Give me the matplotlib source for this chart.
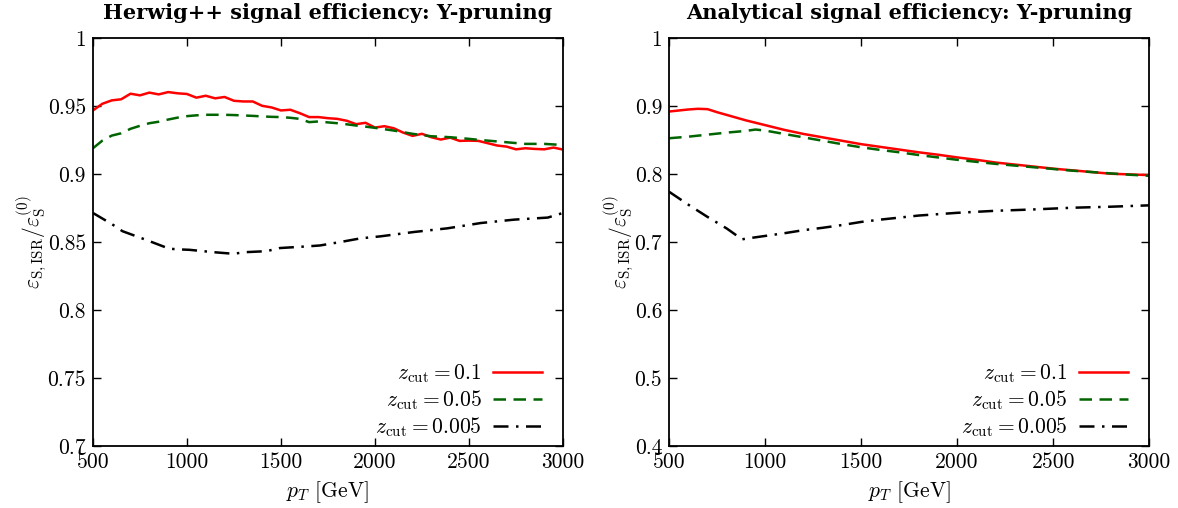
import matplotlib
matplotlib.use('Agg')
import matplotlib.pyplot as plt
from matplotlib.ticker import FuncFormatter

plt.rcParams['font.family'] = 'cmr10'
plt.rcParams['mathtext.fontset'] = 'cm'
plt.rcParams['axes.formatter.use_mathtext'] = True

# Herwig++ (left panel)
pt_herwig = [500, 550, 600, 650, 700, 750, 800, 850, 900, 950, 1000, 1050, 1100, 1150,
             1200, 1250, 1300, 1350, 1400, 1450, 1500, 1550, 1600, 1650, 1700, 1750,
             1800, 1850, 1900, 1950, 2000, 2050, 2100, 2150, 2200, 2250, 2300, 2350,
             2400, 2450, 2500, 2550, 2600, 2650, 2700, 2750, 2800, 2850, 2900, 2950, 3000]
herwig_z01 = [0.9468, 0.9517, 0.9542, 0.9550, 0.9591, 0.9579, 0.9599, 0.9586, 0.9603,
              0.9594, 0.9589, 0.9562, 0.9576, 0.9557, 0.9567, 0.9539, 0.9534, 0.9534,
              0.9502, 0.9490, 0.9468, 0.9473, 0.9448, 0.9419, 0.9419, 0.9411, 0.9406,
              0.9392, 0.9367, 0.9377, 0.9342, 0.9352, 0.9337, 0.9305, 0.9281, 0.9296,
              0.9271, 0.9254, 0.9268, 0.9244, 0.9246, 0.9244, 0.9227, 0.9210, 0.9202,
              0.9182, 0.9190, 0.9185, 0.9182, 0.9195, 0.9180]
herwig_z005 = [0.9190, 0.9246, 0.9283, 0.9300, 0.9333, 0.9355, 0.9374, 0.9385, 0.9401,
               0.9415, 0.9426, 0.9432, 0.9436, 0.9436, 0.9436, 0.9434, 0.9431, 0.9428,
               0.9424, 0.9421, 0.9419, 0.9414, 0.9406, 0.9382, 0.9387, 0.9380, 0.9374,
               0.9366, 0.9357, 0.9349, 0.9340, 0.9330, 0.9320, 0.9308, 0.9296, 0.9287,
               0.9278, 0.9275, 0.9271, 0.9265, 0.9259, 0.9252, 0.9246, 0.9240, 0.9234,
               0.9228, 0.9222, 0.9222, 0.9222, 0.9218, 0.9214]
pt_herwig_b = [500, 603, 657, 781, 906, 960, 1013, 1138, 1245, 1316, 1423, 1494, 1637,
               1708, 1815, 1922, 2029, 2207, 2385, 2563, 2741, 2919, 3000]
herwig_z0005 = [0.8714, 0.8630, 0.8580, 0.8517, 0.8451, 0.8446, 0.8443, 0.8426, 0.8414,
                0.8426, 0.8433, 0.8456, 0.8468, 0.8475, 0.8500, 0.8527, 0.8542, 0.8574,
                0.8601, 0.8640, 0.8665, 0.8680, 0.8714]

# Analytical (right panel)
pt_an_r = [500, 550, 600, 650, 700, 750, 800, 900, 1000, 1100, 1200, 1300, 1400, 1500,
           1600, 1700, 1800, 1900, 2000, 2100, 2200, 2300, 2400, 2500, 2600, 2700, 2800,
           2900, 3000]
an_z01 = [0.892, 0.8935, 0.895, 0.896, 0.8955, 0.891, 0.887, 0.879, 0.872, 0.865, 0.859,
          0.854, 0.849, 0.844, 0.840, 0.836, 0.832, 0.8285, 0.8245, 0.821, 0.817, 0.814,
          0.811, 0.808, 0.8055, 0.803, 0.8005, 0.7995, 0.7985]
pt_an_g = [500, 600, 700, 800, 900, 950, 1000, 1100, 1200, 1300, 1400, 1500, 1600, 1700,
           1800, 1900, 2000, 2100, 2200, 2300, 2400, 2500, 2600, 2700, 2800, 2900, 3000]
an_z005 = [0.8527, 0.855, 0.858, 0.861, 0.8635, 0.8655, 0.864, 0.859, 0.854, 0.849, 0.844,
           0.8394, 0.8355, 0.832, 0.828, 0.8245, 0.821, 0.818, 0.815, 0.8125, 0.810,
           0.8075, 0.805, 0.803, 0.801, 0.799, 0.7975]
pt_an_b = [500, 600, 700, 800, 880, 900, 1000, 1100, 1200, 1300, 1400, 1500, 1600, 1700,
           1800, 1900, 2000, 2200, 2400, 2600, 2800, 3000]
an_z0005 = [0.774, 0.755, 0.737, 0.720, 0.704, 0.705, 0.709, 0.713, 0.7175, 0.721, 0.725,
            0.7296, 0.733, 0.736, 0.739, 0.741, 0.743, 0.746, 0.748, 0.7505, 0.752, 0.754]

labels = [r'$z_{\rm cut} = 0.1$', r'$z_{\rm cut} = 0.05$', r'$z_{\rm cut} = 0.005$']

fig = plt.figure(figsize=(11.78, 5.08), dpi=100)
ax1 = fig.add_axes([0.0789, 0.122, 0.399, 0.803])
ax2 = fig.add_axes([0.568, 0.122, 0.4075, 0.803])


def style_axis(ax, title, yticks, leg_x):
    ax.set_xlim(500, 3000)
    ax.set_ylim(yticks[0], yticks[-1])
    ax.set_xticks([500, 1000, 1500, 2000, 2500, 3000])
    ax.set_yticks(yticks)
    ax.yaxis.set_major_formatter(FuncFormatter(lambda v, p: '%g' % round(v, 3)))
    ax.xaxis.set_major_formatter(FuncFormatter(lambda v, p: '%d' % v))
    ax.tick_params(direction='in', top=True, right=True, length=6, width=1,
                   labelsize=15.5, pad=5)
    for s in ax.spines.values():
        s.set_linewidth(1.3)
    ax.set_xlabel(r'$p_T$ [GeV]', fontsize=15.5, labelpad=5)
    ax.set_ylabel(r'$\varepsilon_{\rm S,ISR}/\varepsilon_{\rm S}^{(0)}$', fontsize=15.5,
                  labelpad=-1)
    ax.set_title(title, fontsize=15, family='DejaVu Serif', fontweight='bold', pad=14)
    leg = ax.legend(loc='lower right', bbox_to_anchor=(leg_x, -0.004), frameon=False,
                    markerfirst=False, fontsize=15.5, handlelength=2.25,
                    labelspacing=0.16, borderaxespad=0, handletextpad=0.55)
    for t in leg.get_texts():
        t.set_ha('right')


ax1.plot(pt_herwig, herwig_z01, color='#ff0000', lw=1.8, label=labels[0])
ax1.plot(pt_herwig, herwig_z005, color='#006400', lw=1.8, ls=(0, (5, 3)), label=labels[1])
ax1.plot(pt_herwig_b, herwig_z0005, color='black', lw=1.8, ls=(0, (6, 3, 1, 3)),
         label=labels[2])
style_axis(ax1, 'Herwig++ signal efficiency: Y-pruning',
           [0.7, 0.75, 0.8, 0.85, 0.9, 0.95, 1.0], 0.973)

ax2.plot(pt_an_r, an_z01, color='#ff0000', lw=1.8, label=labels[0])
ax2.plot(pt_an_g, an_z005, color='#006400', lw=1.8, ls=(0, (5, 3)), label=labels[1])
ax2.plot(pt_an_b, an_z0005, color='black', lw=1.8, ls=(0, (6, 3, 1, 3)), label=labels[2])
style_axis(ax2, 'Analytical signal efficiency: Y-pruning',
           [0.4, 0.5, 0.6, 0.7, 0.8, 0.9, 1.0], 0.973)

fig.savefig('out.png', dpi=100)
